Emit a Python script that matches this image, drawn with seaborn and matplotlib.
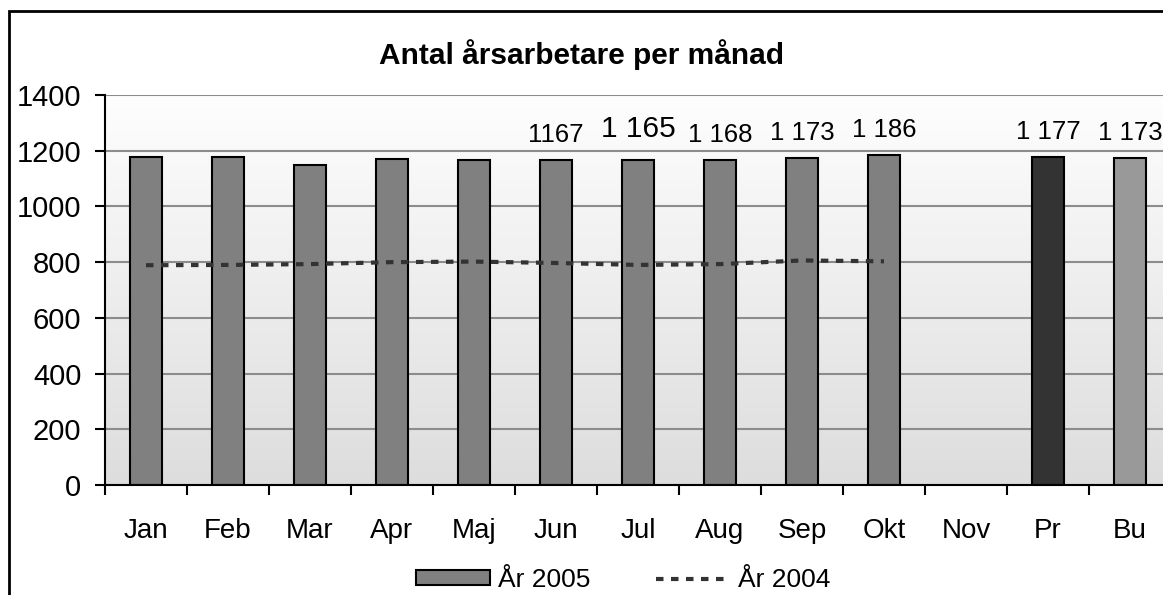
#!/usr/bin/env python3
"""Antal årsarbetare per månad - bars for 2005, dotted line for 2004."""

import numpy as np
import pandas as pd
import seaborn as sns
import matplotlib.pyplot as plt
from matplotlib.colors import LinearSegmentedColormap
from matplotlib.patches import Patch, Rectangle
from matplotlib.lines import Line2D

# data
months = ["Jan", "Feb", "Mar", "Apr", "Maj", "Jun", "Jul", "Aug", "Sep", "Okt", "Nov", "Pr", "Bu"]
values_2005 = [1178, 1178, 1150, 1172, 1165, 1167, 1165, 1168, 1173, 1186, np.nan, 1177, 1173]
values_2004 = [789, 790, 793, 800, 802, 797, 790, 793, 806, 803]
labels_2005 = ["", "", "", "", "", "1167", "1 165", "1 168", "1 173", "1 186", "", "1 177", "1 173"]
bar_colors = ["#808080"] * 11 + ["#333333", "#999999"]


def main():
    sns.set_theme(style="white")
    plt.rcParams["font.family"] = ["Liberation Sans", "DejaVu Sans"]
    plt.rcParams["text.color"] = "black"
    plt.rcParams["xtick.color"] = "black"
    plt.rcParams["ytick.color"] = "black"

    df = pd.DataFrame({"Månad": months, "Antal": values_2005})

    fig = plt.figure(figsize=(11.63, 5.95), dpi=100)
    ax = fig.add_axes([105 / 1163, 110 / 595, 1066 / 1163, 390 / 595])

    # gradient plot area background
    grad = np.linspace(0, 1, 256).reshape(-1, 1)
    ax.imshow(grad, cmap=LinearSegmentedColormap.from_list("bg", ["#dddddd", "#fefefe"]),
              origin="lower", aspect="auto", extent=[0, 1, 0, 1],
              transform=ax.transAxes, zorder=0)

    sns.barplot(data=df, x="Månad", y="Antal", hue="Månad", order=months,
                palette=dict(zip(months, bar_colors)), width=0.4,
                edgecolor="black", linewidth=1.5, legend=False, ax=ax, zorder=2)

    sns.lineplot(x=np.arange(len(values_2004)), y=values_2004, color="#333333",
                 linewidth=3, linestyle=(0, (1.8, 1.8)), ax=ax, zorder=3)

    # data labels
    for i, (val, lab) in enumerate(zip(values_2005, labels_2005)):
        if not lab:
            continue
        big = lab == "1 165"
        ax.annotate(lab, (i, val), xytext=(0, 23 if big else 18),
                    textcoords="offset points", ha="center", va="center",
                    fontsize=21.5 if big else 18.5)

    ax.set_xlim(-0.5, 12.5)
    ax.set_ylim(0, 1400)
    ax.set_yticks(range(0, 1401, 200))
    ax.yaxis.grid(True, color="#8c8c8c", linewidth=1.5, zorder=1)
    ax.set_axisbelow(True)
    ax.set_xticks(np.arange(-0.5, 13, 1), minor=True)
    ax.tick_params(axis="x", which="major", length=0, pad=24, labelsize=20)
    ax.tick_params(axis="x", which="minor", direction="out", length=7, width=1.5,
                   bottom=True)
    ax.tick_params(axis="y", direction="out", length=7, width=1.5,
                   left=True, pad=10, labelsize=21)
    ax.set_xlabel("")
    ax.set_ylabel("")
    for side in ["top", "right"]:
        ax.spines[side].set_visible(False)
    for side in ["left", "bottom"]:
        ax.spines[side].set_color("black")
        ax.spines[side].set_linewidth(1.5)

    fig.text(0.5, 1 - 55 / 595, "Antal årsarbetare per månad", ha="center",
             va="center", fontsize=21.5, fontweight="bold")

    handles = [
        Patch(facecolor="#808080", edgecolor="black", linewidth=1.5, label="År 2005"),
        Line2D([], [], color="#333333", linewidth=3, linestyle=(0, (1.8, 1.8)), label="År 2004"),
    ]
    fig.legend(handles=handles, loc="center", bbox_to_anchor=(623 / 1163, 15 / 595),
               ncol=2, frameon=False, fontsize=19, handlelength=2.8, handleheight=0.5,
               handletextpad=0.3, columnspacing=2.5)

    # outer chart border
    fig.patches.append(Rectangle((9 / 1163, -0.05), 1.1, 1 - 11 / 595 + 0.05,
                                 transform=fig.transFigure, fill=False,
                                 edgecolor="black", linewidth=2, zorder=10))

    fig.savefig("out.png", dpi=100)


if __name__ == "__main__":
    main()
